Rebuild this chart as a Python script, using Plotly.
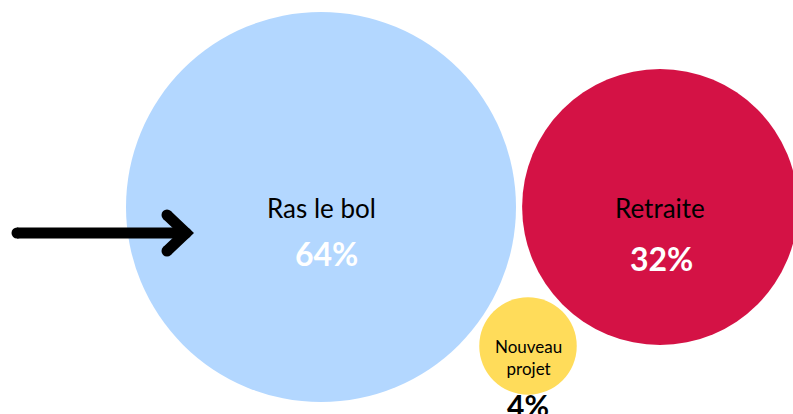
import plotly.graph_objects as go

# Data
categories = ["Ras le bol", "Retraite", "Nouveau<br>projet"]
values = [64, 32, 4]
pct_labels = ["64%", "32%", "4%"]

# Layout positions (pixel-like coordinates of bubble centers)
pos_x = [321, 660, 528]
pos_y = [207, 207, 346]
colors = ["#B3D7FF", "#D41245", "#FFDC5A"]

# Arrow decoration path
arrow_shaft_x = [17, 184]
arrow_shaft_y = [233, 233]
arrow_head_x = [167, 186, 167]
arrow_head_y = [215, 233, 251]

W, H = 793, 414
max_diam = 390

fig = go.Figure()
fig.add_trace(go.Scatter(
    x=pos_x, y=pos_y, mode="markers",
    marker=dict(size=values, sizemode="area",
                sizeref=2.0 * max(values) / max_diam ** 2,
                color=colors, line=dict(width=0), opacity=1),
    hoverinfo="skip", showlegend=False, cliponaxis=True,
))

# arrow
fig.add_trace(go.Scatter(x=arrow_shaft_x, y=arrow_shaft_y, mode="lines+markers",
                         line=dict(color="black", width=11),
                         marker=dict(size=11, color="black"),
                         hoverinfo="skip", showlegend=False))
fig.add_trace(go.Scatter(x=arrow_head_x, y=arrow_head_y, mode="lines+markers",
                         line=dict(color="black", width=11),
                         marker=dict(size=11, color="black"),
                         hoverinfo="skip", showlegend=False))

font_family = "Lato, Inter, sans-serif"
label_sizes = [26, 26, 17]
label_dy = [1, 1, 11]
pct_dx = [5, 1, 0]
pct_dy = [46, 51, 59]
pct_colors = ["white", "white", "black"]
pct_sizes = [32, 32, 30]

for i, cat in enumerate(categories):
    fig.add_annotation(x=pos_x[i], y=pos_y[i] + label_dy[i], text=cat, showarrow=False,
                       font=dict(family=font_family, size=label_sizes[i], color="black"),
                       xanchor="center", yanchor="middle")
    fig.add_annotation(x=pos_x[i] + pct_dx[i], y=pos_y[i] + pct_dy[i],
                       text="<b>" + pct_labels[i] + "</b>",
                       showarrow=False,
                       font=dict(family=font_family, size=pct_sizes[i], color=pct_colors[i]),
                       xanchor="center", yanchor="middle")

fig.update_layout(
    width=W, height=H, margin=dict(l=0, r=0, t=0, b=0),
    paper_bgcolor="white", plot_bgcolor="white",
    xaxis=dict(range=[0, W], visible=False, fixedrange=True),
    yaxis=dict(range=[H, 0], visible=False, fixedrange=True),
    showlegend=False,
)

fig.write_html(
    "out.html",
    config={"displayModeBar": False},
    post_script="document.body.style.margin='0';document.body.style.overflow='hidden';",
)
